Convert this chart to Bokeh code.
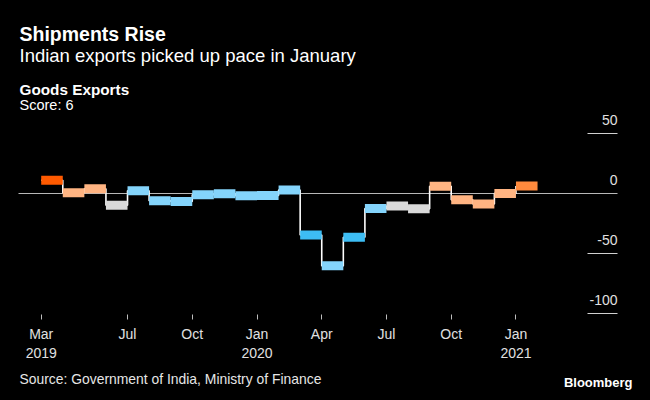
from bokeh.plotting import figure
from bokeh.layouts import column
from bokeh.models import Range1d, FixedTicker, ColumnDataSource
from bokeh.core.properties import value
from bokeh.embed import file_html
from bokeh.resources import INLINE

# ---- data ----
months = ["Mar 2019", "Apr 2019", "May 2019", "Jun 2019", "Jul 2019", "Aug 2019",
          "Sep 2019", "Oct 2019", "Nov 2019", "Dec 2019", "Jan 2020", "Feb 2020",
          "Mar 2020", "Apr 2020", "May 2020", "Jun 2020", "Jul 2020", "Aug 2020",
          "Sep 2020", "Oct 2020", "Nov 2020", "Dec 2020", "Jan 2021"]
export_growth = [11.0, 0.6, 3.9, -9.7, 2.3, -6.0, -6.6, -1.1, -0.3, -1.8, -1.7, 2.9,
                 -34.6, -60.3, -36.5, -12.6, -10.4, -12.8, 6.0, -5.3, -8.7, 0.1, 6.2]
heat = ["hot", "mild", "mild", "neutral", "cool", "cool", "cool", "cool", "cool", "cool",
        "cool", "cool", "cold", "cool", "cold", "cool", "neutral", "neutral",
        "mild", "mild", "mild", "mild", "warm"]
x_tick_months = ["Mar 2019", "Jul 2019", "Oct 2019", "Jan 2020", "Apr 2020",
                 "Jul 2020", "Oct 2020", "Jan 2021"]
x_tick_labels = ["Mar\n2019", "Jul", "Oct", "Jan\n2020", "Apr", "Jul", "Oct", "Jan\n2021"]
y_ticks = [50, 0, -50, -100]
y_tick_labels = ["50", "0", "-50", "-100"]

title = "Shipments Rise"
subtitle = "Indian exports picked up pace in January"
panel_title = "Goods Exports"
panel_note = "Score: 6"
source_note = "Source: Government of India, Ministry of Finance"
brand = "Bloomberg"

palette = {"hot": "#ff5a00", "warm": "#ff8a3d", "mild": "#ffb482",
           "neutral": "#d9d9d9", "cool": "#84d4fb", "cold": "#3dbdf4"}

FONT = "Liberation Sans"
W = 650
PX_PER_MONTH = 21.58
ORIGIN_PX = 40.7          # pixel of the first month start


def text_panel(height):
    f = figure(width=W, height=height, output_backend="svg", toolbar_location=None,
               x_range=Range1d(0, W), y_range=Range1d(height, 0),
               x_axis_type=None, y_axis_type=None, min_border=0,
               background_fill_color="black", border_fill_color="black",
               outline_line_color=None)
    f.grid.visible = False
    return f


def put(f, text, x, y, size, bold=False, align="left", color="white"):
    f.text(x=[x], y=[y], text=[text], text_font=value(FONT), text_font_size=size,
           text_font_style="bold" if bold else "normal", text_color=color,
           text_align=align, text_baseline="alphabetic")


# ---- header ----
head = text_panel(113)
put(head, title, 19, 33.5, "19.5px", bold=True)
put(head, subtitle, 19, 54.5, "18.5px")
put(head, panel_title, 19, 88.5, "15.3px", bold=True)
put(head, panel_note, 19, 104.5, "14.5px")

# ---- main chart ----
idx = list(range(len(months)))
src = ColumnDataSource(dict(
    x=[i + 0.5 for i in idx], start=idx, y=export_growth,
    color=[palette[h] for h in heat]))

x0 = (0 - ORIGIN_PX) / PX_PER_MONTH
x1 = (W - ORIGIN_PX) / PX_PER_MONTH
line_start = (18 - ORIGIN_PX) / PX_PER_MONTH
line_end = (617 - ORIGIN_PX) / PX_PER_MONTH

p = figure(width=W, height=253, output_backend="svg", toolbar_location=None,
           x_range=Range1d(x0, x1), y_range=Range1d(-100.83, 66.67),
           min_border_left=0, min_border_right=0, min_border_top=0,
           min_border_bottom=52, background_fill_color="black",
           border_fill_color="black", outline_line_color=None)
p.grid.visible = False
p.yaxis.visible = False

xa = p.xaxis[0]
xa.ticker = FixedTicker(ticks=[months.index(m) for m in x_tick_months])
xa.major_label_overrides = {months.index(m): lab for m, lab in zip(x_tick_months, x_tick_labels)}
xa.axis_line_color = None
xa.minor_tick_line_color = None
xa.major_tick_in = 0
xa.major_tick_out = 5
xa.major_tick_line_color = "#bdbdbd"
xa.major_label_standoff = 6
xa.major_label_text_color = "#e0e0e0"
xa.major_label_text_font = FONT
xa.major_label_text_font_size = "14px"

# zero line and y-tick rules
p.segment(x0=[line_start], x1=[line_end], y0=[0], y1=[0], line_color="#b8b8b8", line_width=1.2)
rule_ticks = [t for t in y_ticks if t != 0]
p.segment(x0=[line_end - 30 / PX_PER_MONTH] * len(rule_ticks), x1=[line_end] * len(rule_ticks),
          y0=rule_ticks, y1=rule_ticks, line_color="#d0d0d0", line_width=1.2)
p.text(x=[line_end] * len(y_ticks), y=y_ticks, text=y_tick_labels, text_align="right",
       text_baseline="alphabetic", y_offset=-14, text_color="#e0e0e0",
       text_font=value(FONT), text_font_size="14px")

# step connector line and monthly bars
p.step(x="start", y="y", source=src, mode="after", line_color="white", line_width=1.6)
p.rect(x="x", y="y", width=1, height=9, height_units="screen", source=src,
       fill_color="color", line_color=None)

# ---- footer ----
foot = text_panel(34)
put(foot, source_note, 19, 12.5, "13.9px", color="#e6e6e6")
put(foot, brand, 632, 16, "13px", bold=True, align="right")

layout = column(head, p, foot, spacing=0)
html = file_html(layout, INLINE)
html = html.replace("</head>", "<style>html,body{background:#000000;}</style></head>", 1)
open("out.html", "w").write(html)
